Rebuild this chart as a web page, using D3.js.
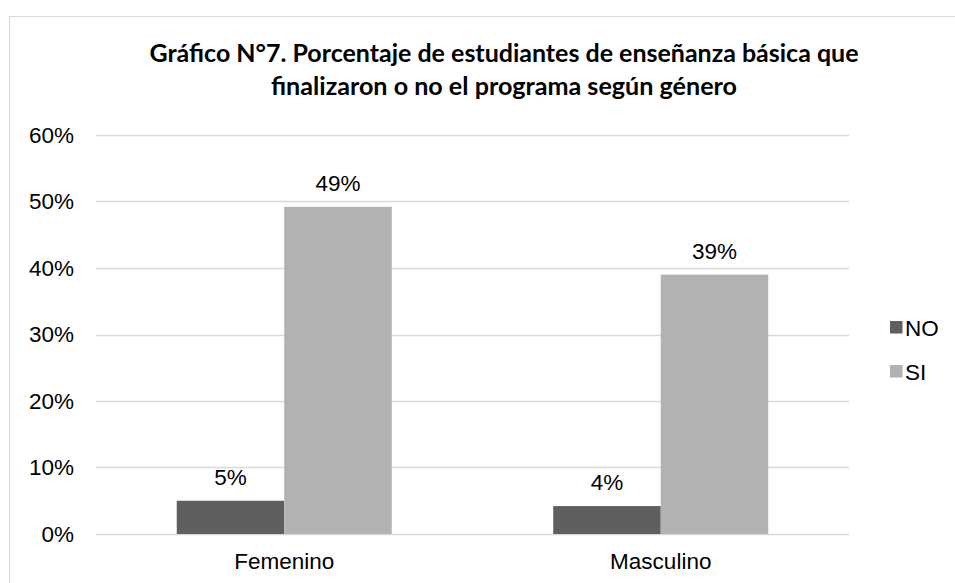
<!DOCTYPE html>
<html>
<head>
<meta charset="utf-8">
<script src="https://cdn.jsdelivr.net/npm/d3@7"></script>
<style>
  body { margin: 0; background: #fff; }
  text { font-family: "Liberation Sans", Arial, sans-serif; fill: #000; }
  .title { font-family: Lato, "Open Sans", sans-serif; font-weight: bold; font-size: 24px; }
</style>
</head>
<body>
<div id="chart"></div>
<script>
// Data
let categories = ['Femenino', 'Masculino'];
let seriesNames = ['NO', 'SI'];
let noValues = [0.05, 0.042];
let siValues = [0.492, 0.39];
let valueLabels = [['5%', '49%'], ['4%', '39%']];
let tickValues = [0, 0.1, 0.2, 0.3, 0.4, 0.5, 0.6];
let titleLines = [
    'Gráfico N°7. Porcentaje de estudiantes de enseñanza básica que',
    'finalizaron o no el programa según género'
];

let colors = { NO: '#5f5f5f', SI: '#b2b2b2' };
let labelSize = '22.5px';

let svgWidth = 955;
let svgHeight = 583;

let margin = { top: 135, right: 106, bottom: 49, left: 96 };
let width = svgWidth - margin.left - margin.right;
let height = svgHeight - margin.top - margin.bottom;

let svg = d3.select('#chart')
    .append('svg')
    .attr('width', svgWidth)
    .attr('height', svgHeight);

// chart frame (right and bottom edges fall outside the picture)
svg.append('rect')
    .attr('x', 9.5)
    .attr('y', 16.5)
    .attr('width', 960)
    .attr('height', 600)
    .attr('fill', 'none')
    .attr('stroke', '#d9d9d9')
    .attr('stroke-width', 1);

// title, stretched to the widths measured on the reference
let titleWidths = [709, 466];
svg.selectAll('.title')
    .data(titleLines)
    .enter()
    .append('text')
    .attr('class', 'title')
    .attr('x', 504)
    .attr('y', (d, i) => 62 + i * 33)
    .attr('text-anchor', 'middle')
    .attr('textLength', (d, i) => titleWidths[i])
    .attr('lengthAdjust', 'spacingAndGlyphs')
    .text(d => d);

let chartGroup = svg.append('g')
    .attr('transform', `translate(${margin.left}, ${margin.top})`);

let x0 = d3.scaleBand()
    .domain(categories)
    .range([0, width]);

let x1 = d3.scaleBand()
    .domain(seriesNames)
    .range([0, 215]);

let y = d3.scaleLinear()
    .domain([0, 0.6])
    .range([height, 0]);

// gridlines
chartGroup.selectAll('.grid')
    .data(tickValues)
    .enter()
    .append('line')
    .attr('x1', 0)
    .attr('x2', width)
    .attr('y1', d => Math.round(y(d)) + 0.5)
    .attr('y2', d => Math.round(y(d)) + 0.5)
    .attr('stroke', '#d9d9d9')
    .attr('stroke-width', 1.5);

// y axis labels
let leftAxis = d3.axisLeft(y)
    .tickValues(tickValues)
    .tickFormat(d3.format('.0%'))
    .tickSize(0)
    .tickPadding(22);

let yAxis = chartGroup.append('g').call(leftAxis);
yAxis.select('.domain').remove();
yAxis.selectAll('text')
    .style('font-family', '"Liberation Sans", Arial, sans-serif')
    .style('font-size', labelSize)
    .attr('fill', '#000');

// x axis labels
let bottomAxis = d3.axisBottom(x0)
    .tickSize(0)
    .tickPadding(19);

let xAxis = chartGroup.append('g')
    .attr('transform', `translate(0, ${height})`)
    .call(bottomAxis);
xAxis.select('.domain').remove();
xAxis.selectAll('text')
    .style('font-family', '"Liberation Sans", Arial, sans-serif')
    .style('font-size', labelSize)
    .attr('fill', '#000');

// bars
let rows = categories.map((c, i) => ({
    category: c,
    values: [
        { key: 'NO', value: noValues[i], label: valueLabels[i][0] },
        { key: 'SI', value: siValues[i], label: valueLabels[i][1] }
    ]
}));

let groups = chartGroup.selectAll('.group')
    .data(rows)
    .enter()
    .append('g')
    .attr('transform', d => `translate(${x0(d.category) + x0.bandwidth() / 2 - 107.5}, 0)`);

groups.selectAll('rect')
    .data(d => d.values)
    .enter()
    .append('rect')
    .attr('x', d => x1(d.key))
    .attr('y', d => y(d.value))
    .attr('width', x1.bandwidth())
    .attr('height', d => height - y(d.value))
    .attr('fill', d => colors[d.key]);

groups.selectAll('.value')
    .data(d => d.values)
    .enter()
    .append('text')
    .attr('x', d => x1(d.key) + x1.bandwidth() / 2)
    .attr('y', d => y(d.value) - 16)
    .attr('text-anchor', 'middle')
    .style('font-size', labelSize)
    .text(d => d.label);

// legend
let legend = svg.append('g')
    .attr('transform', 'translate(890, 321)');

let legendItems = legend.selectAll('.item')
    .data(seriesNames)
    .enter()
    .append('g')
    .attr('transform', (d, i) => `translate(0, ${i * 44})`);

legendItems.append('rect')
    .attr('width', 12.5)
    .attr('height', 12.5)
    .attr('fill', d => colors[d]);

legendItems.append('text')
    .attr('x', 15)
    .attr('y', 15)
    .style('font-size', labelSize)
    .text(d => d);
</script>
</body>
</html>
